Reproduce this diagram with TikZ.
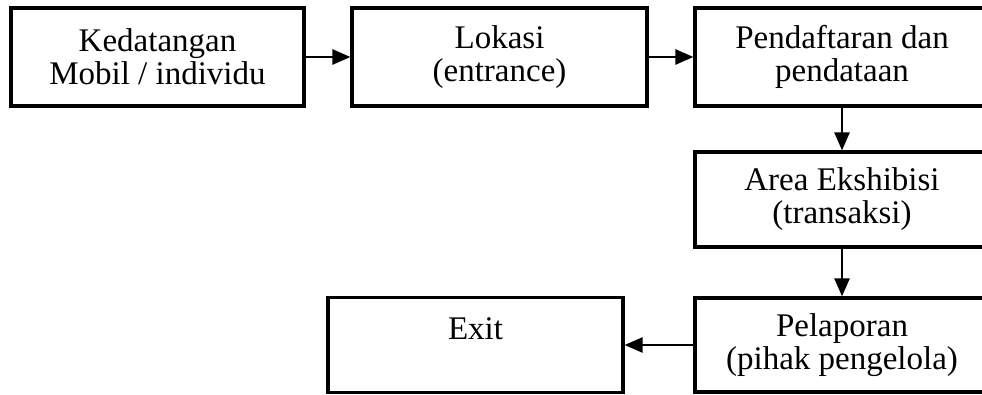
\documentclass[tikz,border=0pt]{standalone}
\usepackage{fontspec}
\setmainfont{Liberation Serif}
\usetikzlibrary{arrows.meta}

\tikzset{
  flowbox/.style={draw=black, line width=3.2pt, fill=white, align=center,
    inner sep=0pt, font=\fontsize{33}{33}\selectfont},
  flowarrow/.style={draw=black, line width=2.6pt,
    -{Triangle[length=18pt,width=15pt]}}
}

\begin{document}
\begin{tikzpicture}[x=1pt,y=1pt]
  \useasboundingbox (0,0) rectangle (982,394);
  \clip (0,0) rectangle (982,394);

  % top row
  \node[flowbox, minimum width=293pt, minimum height=98pt] (kedatangan)
    at (157.5,337) {Kedatangan\\Mobil / individu};
  \node[flowbox, minimum width=295pt, minimum height=98pt] (lokasi)
    at (499.5,337) {Lokasi\\(entrance)};
  \node[flowbox, minimum width=294pt, minimum height=98pt] (pendaftaran)
    at (842,337) {Pendaftaran dan\\pendataan};

  % right column
  \node[flowbox, minimum width=294pt, minimum height=95pt] (ekshibisi)
    at (842,194.5) {Area Ekshibisi\\(transaksi)};
  \node[flowbox, minimum width=294pt, minimum height=94pt] (pelaporan)
    at (842,49) {Pelaporan\\(pihak pengelola)};

  % exit
  \node[flowbox, minimum width=295pt, minimum height=95pt] (exit)
    at (475.5,49) {Exit\\\mbox{}};

  % connectors
  \draw[flowarrow] (kedatangan.east) -- (lokasi.west);
  \draw[flowarrow] (lokasi.east) -- (pendaftaran.west);
  \draw[flowarrow] (pendaftaran.south) -- (ekshibisi.north);
  \draw[flowarrow] (ekshibisi.south) -- (pelaporan.north);
  \draw[flowarrow] (pelaporan.west) -- (exit.east);
\end{tikzpicture}
\end{document}
